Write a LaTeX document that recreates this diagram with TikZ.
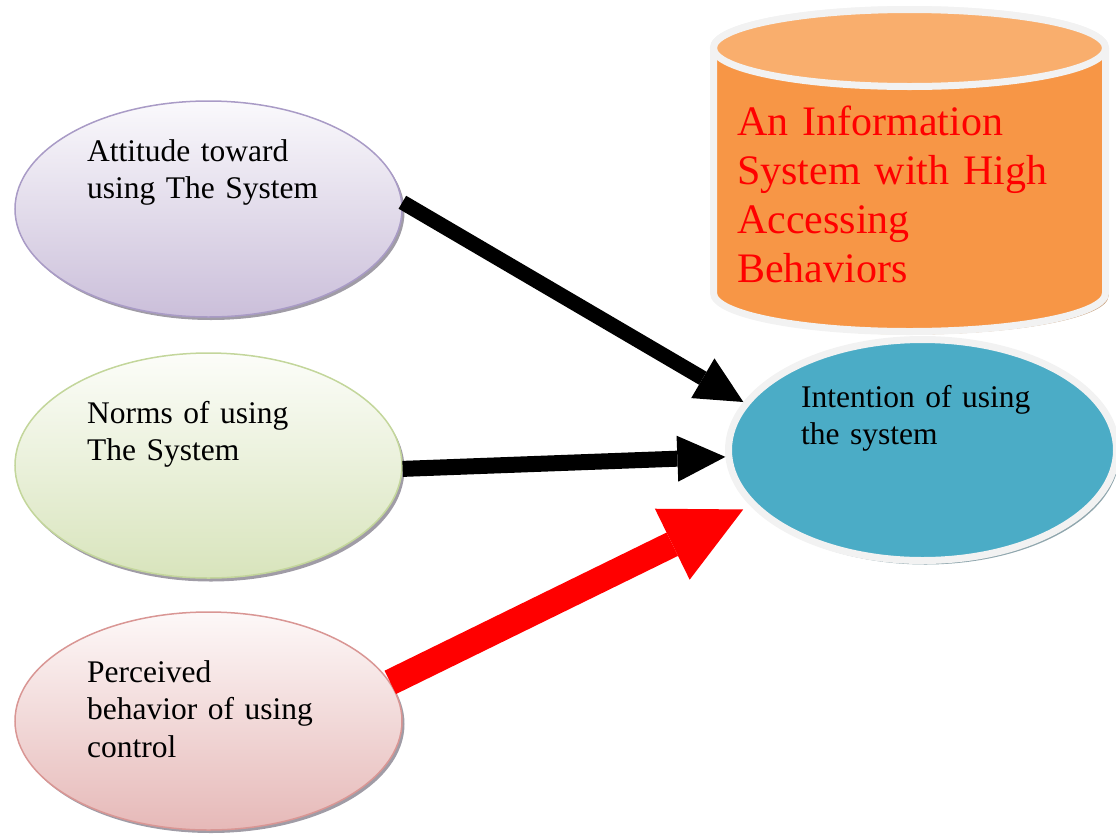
\documentclass[tikz,border=0pt]{standalone}
\usepackage{fontspec}
\setmainfont{Liberation Serif}
\usetikzlibrary{shapes.geometric,arrows.meta}
\definecolor{attTop}{HTML}{FAF9FC}
\definecolor{attBot}{HTML}{CBBFDA}
\definecolor{attLine}{HTML}{A99BC6}
\definecolor{nrmTop}{HTML}{FCFDF9}
\definecolor{nrmBot}{HTML}{D8E4BC}
\definecolor{nrmLine}{HTML}{C3D69B}
\definecolor{perTop}{HTML}{FDF8F8}
\definecolor{perBot}{HTML}{E6B9B8}
\definecolor{perLine}{HTML}{D99694}
\definecolor{intFill}{HTML}{4BACC6}
\definecolor{ringCol}{HTML}{F2F2F2}
\definecolor{intShadow}{HTML}{8FA6AD}
\definecolor{cylBody}{HTML}{F79646}
\definecolor{cylTop}{HTML}{F9AE6D}
\definecolor{cylShadow}{HTML}{C9A27F}
\definecolor{ovalShadow}{HTML}{A09CA6}
\definecolor{arrRed}{HTML}{FF0000}
\begin{document}
\begin{tikzpicture}[x=1pt,y=-1pt,
  oval/.style={ellipse, inner sep=0pt, minimum width=387pt, line width=1.5pt},
  ovalshadow/.style={ellipse, inner sep=0pt, minimum width=387pt, fill=ovalShadow, draw=none},
  lbl/.style={anchor=base west, align=left, text width=330pt, inner sep=0pt,
    font=\fontsize{31.5}{37.5}\selectfont},
  cyllbl/.style={anchor=base west, align=left, text width=370pt, inner sep=0pt,
    text=arrRed, font=\fontsize{42}{49}\selectfont}]
\useasboundingbox (0,0) rectangle (1116,839);

% shadows of the three ovals
\node[ovalshadow, minimum height=216pt] (attS) at (211,212) {};
\node[ovalshadow, minimum height=225pt] (nrmS) at (211,469) {};
\node[ovalshadow, minimum height=218pt] (perS) at (211,724) {};

% the three source ovals
\node[oval, minimum height=216pt, draw=attLine, top color=attTop, bottom color=attBot] (att) at (208.5,209) {};
\node[oval, minimum height=225pt, draw=nrmLine, top color=nrmTop, bottom color=nrmBot] (nrm) at (208.5,465.5) {};
\node[oval, minimum height=218pt, draw=perLine, top color=perTop, bottom color=perBot] (per) at (208.5,721) {};

\node[lbl] (attT) at (87,161) {Attitude toward\\using The System};
\node[lbl] (nrmT) at (87,423) {Norms of using\\The System};
\node[lbl] (perT) at (87,682) {Perceived\\behavior of using\\control};

% intention oval
\node[ellipse, inner sep=0pt, minimum width=388pt, minimum height=221pt, fill=intShadow] (intS) at (925.5,454) {};
\node[ellipse, inner sep=0pt, minimum width=388pt, minimum height=221pt, fill=intFill, draw=ringCol, line width=7pt] (int) at (922.5,450) {};
\node[lbl] (intT) at (801,407) {Intention of using\\the system};

% cylinder
\path[fill=cylShadow, shift={(3,3)}] (713.5,48) -- (713.5,293)
  arc[start angle=180, end angle=360, x radius=196pt, y radius=38.5pt]
  -- (1105.5,48) -- cycle;
\path[fill=cylBody, draw=ringCol, line width=7pt] (713.5,48) -- (713.5,293)
  arc[start angle=180, end angle=360, x radius=196pt, y radius=38.5pt]
  -- (1105.5,48)
  arc[start angle=0, end angle=180, x radius=196pt, y radius=38.5pt] -- cycle;
\path[fill=cylTop, draw=ringCol, line width=7pt] (909.5,48) ellipse [x radius=196pt, y radius=38.5pt];
\node[cyllbl] (cylT) at (737,135) {An Information\\System with High\\Accessing\\Behaviors};

% block arrows
\draw[black, line width=15pt, -{Triangle[length=47pt,width=46pt,line width=0pt]}] (att.2) -- (int.165);
\draw[black, line width=16pt, -{Triangle[length=48pt,width=46pt,line width=0pt]}] (nrm.-1) -- (int.182);
\draw[arrRed, line width=26pt, shorten >=8pt, -{Triangle[length=79pt,width=79pt,line width=0pt]}] (per.12) -- (int.198);
\end{tikzpicture}
\end{document}
